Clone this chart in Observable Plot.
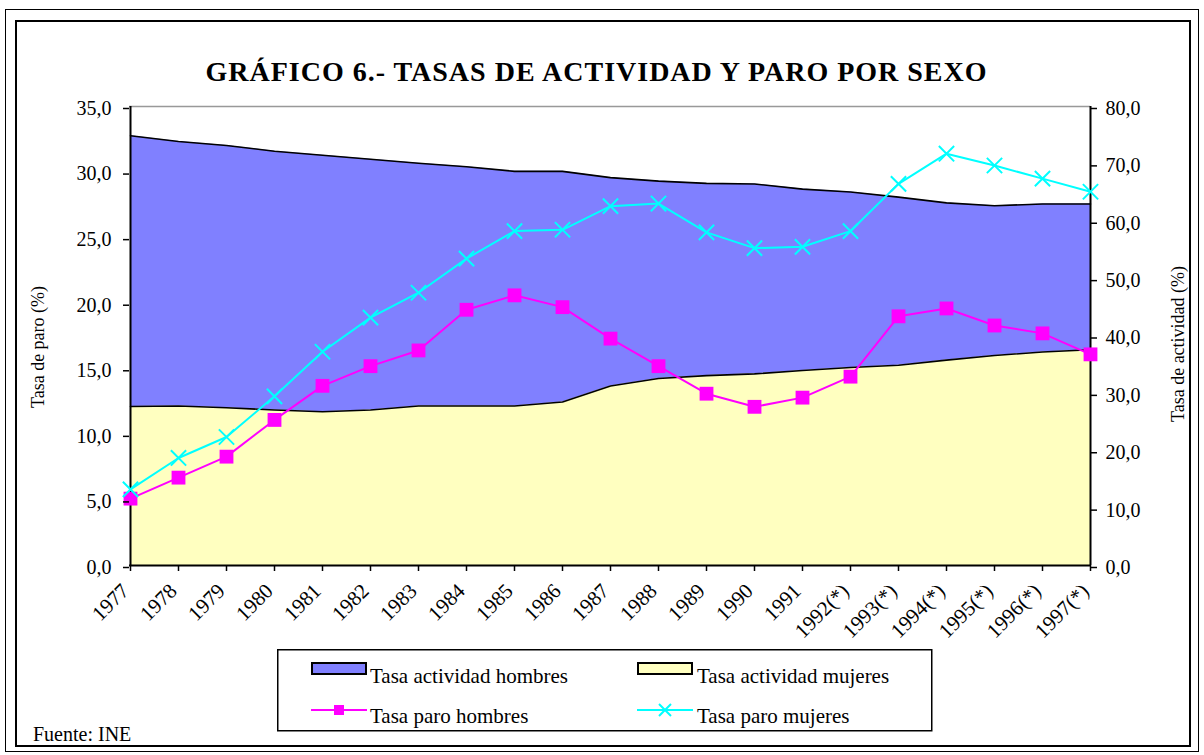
<!DOCTYPE html>
<html>
<head>
<meta charset="utf-8">
<script src="https://cdn.jsdelivr.net/npm/d3@7"></script>
<script src="https://cdn.jsdelivr.net/npm/@observablehq/plot@0.6"></script>
<style>
  html, body { margin: 0; padding: 0; background: #fff; }
  body { width: 1204px; height: 755px; position: relative; overflow: hidden; font-family: 'Liberation Serif', serif; }
  .abs { position: absolute; }
  #outer { left: 5px; top: 9px; width: 1194px; height: 743px; border: 1px solid #000; box-sizing: border-box; }
  #inner { left: 15px; top: 20px; width: 1176px; height: 727px; border: 2px solid #000; box-sizing: border-box; }
  #title { left: 0; top: 58px; width: 1193px; text-align: center; font-weight: bold; font-size: 28px; line-height: 28px; letter-spacing: 1px; color: #000; white-space: nowrap; font-family: 'Liberation Serif', serif; }
  #source { left: 33px; top: 724px; font-size: 20px; line-height: 20px; color: #000; font-family: 'Liberation Serif', serif; }
  #chart { left: 0; top: 0; }
  #legend { left: 277px; top: 649px; }
</style>
</head>
<body>
<div id="outer" class="abs"></div>
<div id="inner" class="abs"></div>
<div id="chart" class="abs"></div>
<div id="title" class="abs">GRÁFICO 6.- TASAS DE ACTIVIDAD Y PARO POR SEXO</div>
<div id="legend" class="abs"></div>
<div id="source" class="abs">Fuente: INE</div>
<script>
// ---- data ----
const years = ["1977","1978","1979","1980","1981","1982","1983","1984","1985","1986","1987","1988","1989","1990","1991","1992(*)","1993(*)","1994(*)","1995(*)","1996(*)","1997(*)"];
const actividadHombres = [74.9, 73.9, 73.2, 72.2, 71.5, 70.8, 70.1, 69.5, 68.7, 68.7, 67.6, 67.0, 66.6, 66.5, 65.6, 65.1, 64.2, 63.2, 62.7, 63.0, 63.0];
const actividadMujeres = [27.7, 27.8, 27.5, 27.1, 26.8, 27.1, 27.8, 27.8, 27.8, 28.5, 31.3, 32.6, 33.1, 33.4, 34.0, 34.5, 34.9, 35.8, 36.6, 37.2, 37.6];
const paroHombres = [5.1, 6.7, 8.3, 11.1, 13.7, 15.2, 16.4, 19.5, 20.6, 19.7, 17.3, 15.2, 13.1, 12.1, 12.8, 14.4, 19.0, 19.6, 18.3, 17.7, 16.1];
const paroMujeres = [5.8, 8.2, 9.8, 12.9, 16.3, 18.9, 20.8, 23.4, 25.5, 25.6, 27.4, 27.6, 25.4, 24.2, 24.3, 25.5, 29.1, 31.4, 30.5, 29.5, 28.5];
const leftTicks = [0, 5, 10, 15, 20, 25, 30, 35];
const rightTicks = [0, 10, 20, 30, 40, 50, 60, 70, 80];
const seriesNames = ["Tasa actividad hombres", "Tasa actividad mujeres", "Tasa paro hombres", "Tasa paro mujeres"];
const axisTitles = ["Tasa de paro (%)", "Tasa de actividad (%)"];

// secondary axis (0-80) mapped onto primary (0-35)
const K = 35 / 80;
const table = years.map((year, i) => ({
  year,
  actH: actividadHombres[i] * K,
  actM: actividadMujeres[i] * K,
  paroH: paroHombres[i],
  paroM: paroMujeres[i]
}));
const fmt = v => v.toFixed(1).replace(".", ",");
const FONT = "'Liberation Serif', serif";

const chart = Plot.plot({
  width: 1204,
  height: 755,
  marginLeft: 129,
  marginRight: 114,
  marginTop: 106,
  marginBottom: 190,
  style: { fontFamily: FONT, fontSize: "20px", color: "#000", background: "transparent" },
  x: { type: "point", domain: years, padding: 0 },
  y: { domain: [0, 35] },
  marks: [
    Plot.areaY(table, { x: "year", y: "actH", fill: "#8080ff", curve: "linear" }),
    Plot.lineY(table, { x: "year", y: "actH", stroke: "#000", strokeWidth: 1.6 }),
    Plot.areaY(table, { x: "year", y: "actM", fill: "#ffffc0", curve: "linear" }),
    Plot.lineY(table, { x: "year", y: "actM", stroke: "#000", strokeWidth: 1.6 }),
    Plot.ruleY([35], { stroke: "#999", strokeWidth: 1.5 }),
    Plot.ruleX([years[0], years[years.length - 1]], { y1: 0, y2: 35, stroke: "#000", strokeWidth: 2 }),
    Plot.ruleY([0], { stroke: "#000", strokeWidth: 2 }),
    Plot.line(table, { x: "year", y: "paroH", stroke: "#ff00ff", strokeWidth: 2 }),
    Plot.dot(table, { x: "year", y: "paroH", symbol: "square", r: 7.8, fill: "#ff00ff", stroke: "none" }),
    Plot.line(table, { x: "year", y: "paroM", stroke: "#00ffff", strokeWidth: 2 }),
    Plot.dot(table, { x: "year", y: "paroM", symbol: "times", r: 7, stroke: "#00ffff", strokeWidth: 2 }),
    Plot.axisY(leftTicks, { anchor: "left", tickSize: 6, tickPadding: 12, tickFormat: fmt, fontSize: 20, label: null, strokeWidth: 1.5, dy: 2 }),
    Plot.axisY(rightTicks.map(v => v * K), { anchor: "right", tickSize: 6, tickPadding: 9, tickFormat: d => fmt(d / K), fontSize: 20, label: null, strokeWidth: 1.5, dy: 2 }),
    Plot.axisX(years, { anchor: "bottom", tickSize: 6, tickFormat: () => "", label: null, strokeWidth: 1.5 }),
    Plot.text(years, { x: d => d, text: d => d, frameAnchor: "bottom", rotate: -45, textAnchor: "end", lineAnchor: "middle", dy: 22, dx: -5, fontSize: 21 }),
    Plot.text([axisTitles[0]], { text: d => d, frameAnchor: "left", rotate: -90, textAnchor: "middle", lineAnchor: "bottom", dx: -86, dy: 11, fontSize: 18 }),
    Plot.text([axisTitles[1]], { text: d => d, frameAnchor: "right", rotate: -90, textAnchor: "middle", lineAnchor: "bottom", dx: 93, dy: 8, fontSize: 18 })
  ]
});
document.getElementById("chart").appendChild(chart);

// ---- legend ----
const lg = d3.select("#legend").append("svg")
  .attr("width", 656).attr("height", 83)
  .style("font-family", FONT).style("font-size", "21px");
lg.append("rect").attr("x", 0.75).attr("y", 0.75).attr("width", 654).attr("height", 81)
  .attr("fill", "#fff").attr("stroke", "#000").attr("stroke-width", 1.5);
// swatches
lg.append("rect").attr("x", 35).attr("y", 14).attr("width", 54).attr("height", 11)
  .attr("fill", "#8080ff").attr("stroke", "#000").attr("stroke-width", 2);
lg.append("rect").attr("x", 361).attr("y", 14).attr("width", 54).attr("height", 11)
  .attr("fill", "#ffffc0").attr("stroke", "#000").attr("stroke-width", 2);
lg.append("line").attr("x1", 34).attr("x2", 90).attr("y1", 61).attr("y2", 61)
  .attr("stroke", "#ff00ff").attr("stroke-width", 2);
lg.append("rect").attr("x", 57).attr("y", 56).attr("width", 10).attr("height", 10).attr("fill", "#ff00ff");
lg.append("line").attr("x1", 360).attr("x2", 416).attr("y1", 61).attr("y2", 61)
  .attr("stroke", "#00ffff").attr("stroke-width", 2);
lg.append("path").attr("d", "M382,55L394,67M394,55L382,67").attr("stroke", "#00ffff").attr("stroke-width", 2);
const lx = [93, 420, 93, 420], ly = [34, 34, 74, 74];
seriesNames.forEach((s, i) => {
  lg.append("text").attr("x", lx[i]).attr("y", ly[i]).attr("fill", "#000").text(s);
});
</script>
</body>
</html>
